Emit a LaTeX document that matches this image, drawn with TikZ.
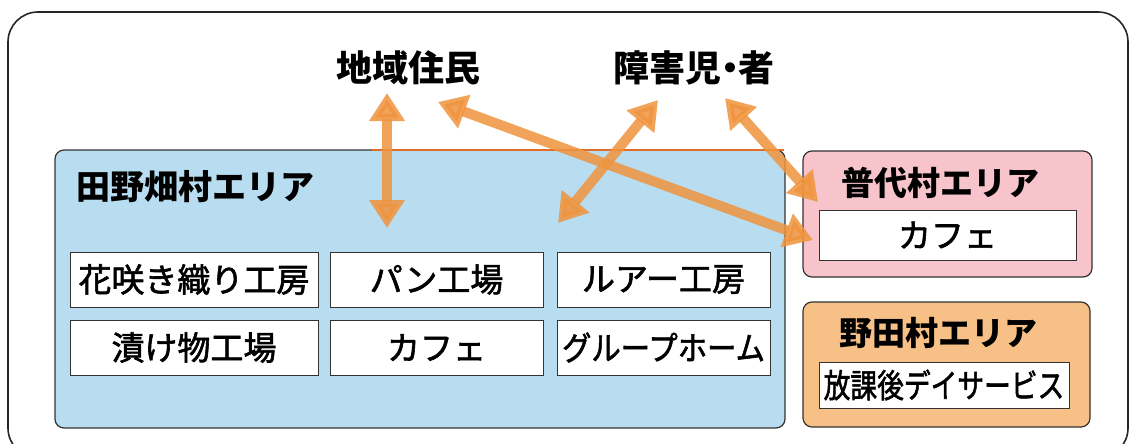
\documentclass[tikz,border=0pt]{standalone}
\usepackage{fontspec}
\usepackage{graphicx}
\setmainfont{Noto Sans CJK JP}
\newfontfamily\medfont[FakeBold=1.8]{Noto Sans CJK JP}
\usetikzlibrary{arrows.meta}
\definecolor{areablue}{RGB}{184,221,240}
\definecolor{areapink}{RGB}{246,196,202}
\definecolor{areaorange}{RGB}{246,192,135}
\definecolor{arroworange}{RGB}{240,148,62}
\definecolor{edgeorange}{RGB}{225,110,40}
\begin{document}
\begin{tikzpicture}[x=1pt,y=-1pt,
 frame/.style={draw=black!85, line width=1.6pt, rounded corners=30pt},
 area/.style={draw=black!80, line width=1.2pt, rounded corners=9pt, inner sep=0pt},
 facility/.style={draw=black!80, fill=white, line width=1pt, inner sep=0pt, font=\medfont\fontsize{33}{33}\selectfont},
 caption/.style={inner sep=0pt, font=\fontsize{34}{34}\selectfont\bfseries},
 flow/.style={draw=arroworange, line width=10pt, opacity=0.85,
   {Triangle[width=34pt,length=28pt]}-{Triangle[width=34pt,length=28pt]}}
]
\useasboundingbox (0,0) rectangle (1129,444);
\fill[white] (0,0) rectangle (1129,444);
\draw[frame] (8,12) rectangle (1128,458);

% areas
\node[area, fill=areablue, minimum width=730pt, minimum height=278pt] (tano) at (420,289) {};
\draw[edgeorange, line width=1.5pt] (372,150) -- (784,150);
\node[area, fill=areapink, minimum width=289pt, minimum height=126pt] (fudai) at (947.5,214) {};
\node[area, fill=areaorange, minimum width=287pt, minimum height=125pt] (noda) at (946.5,364.5) {};

% captions
\node[caption] (tanocap) at (195,187) {田野畑村エリア};
\node[caption, font=\fontsize{33}{33}\selectfont\bfseries] (fudaicap) at (940,183) {普代村エリア};
\node[caption, font=\fontsize{33}{33}\selectfont\bfseries] (nodacap) at (938,333) {野田村エリア};
\node[caption, font=\fontsize{36}{36}\selectfont\bfseries] (jumin) at (408,68) {地域住民};
\node[caption, font=\fontsize{36}{36}\selectfont\bfseries] (shogai) at (694,68) {障害児\kern-0.27em・\kern-0.27em者};

% facilities
\node[facility, minimum width=248pt, minimum height=55pt] (hana) at (194,279.5) {花咲き織り工房};
\node[facility, minimum width=213pt, minimum height=55pt] (pan) at (436.5,279.5) {パン工場};
\node[facility, minimum width=213pt, minimum height=55pt] (lure) at (663.5,279.5) {ルアー工房};
\node[facility, minimum width=248pt, minimum height=55pt] (tsuke) at (194,347.5) {漬け物工場};
\node[facility, minimum width=213pt, minimum height=55pt] (cafe1) at (436.5,347.5) {カフェ};
\node[facility, minimum width=213pt, minimum height=55pt] (gh) at (663.5,347.5) {\scalebox{0.89}[1]{グループホーム}};
\node[facility, minimum width=257pt, minimum height=50pt] (cafe2) at (947.5,235) {カフェ};
\node[facility, minimum width=250pt, minimum height=46pt] (day) at (944,385) {\scalebox{0.81}[1]{放課後デイサービス}};

% arrow end points
\coordinate (v1) at (387,93);
\coordinate (v2) at (387,228);
\coordinate (c1) at (658,100);
\coordinate (c2) at (558,223);
\coordinate (l1) at (438,102);
\coordinate (l2) at (813,240);
\coordinate (r1) at (725,98);
\coordinate (r2) at (818,202);

\draw[flow] (v1) -- (v2);
\draw[flow] (c1) -- (c2);
\draw[flow] (l1) -- (l2);
\draw[flow] (r1) -- (r2);
\end{tikzpicture}
\end{document}
